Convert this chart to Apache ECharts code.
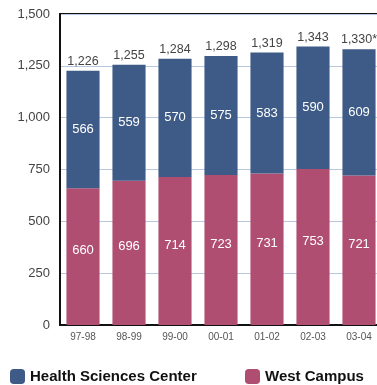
<!DOCTYPE html>
<html>
<head>
<meta charset="utf-8">
<script src="https://cdn.jsdelivr.net/npm/echarts@6/dist/echarts.min.js"></script>
<style>
  html, body { margin: 0; padding: 0; background: #fff; }
  #main { width: 377px; height: 385px; }
</style>
</head>
<body>
<div id="main"></div>
<script>
// academic years
const years = ["97-98", "98-99", "99-00", "00-01", "01-02", "02-03", "03-04"];
// West Campus (bottom segment)
const westCampus = [660, 696, 714, 723, 731, 753, 721];
// Health Sciences Center (top segment)
const healthSciences = [566, 559, 570, 575, 583, 590, 609];
// totals as printed above the bars
const totalLabels = ["1,226", "1,255", "1,284", "1,298", "1,319", "1,343", "1,330*"];

const blue = "#3e5a86";
const pink = "#b04e72";
const font = "Liberation Sans, Arial, sans-serif";

const chart = echarts.init(document.getElementById("main"));
chart.setOption({
  animation: false,
  textStyle: { fontFamily: font },
  grid: {
    left: 60, top: 14, width: 322, bottom: 60,
    outerBoundsMode: "none",
    show: true, borderColor: "#111", borderWidth: 2
  },
  legend: [
    {
      data: ["Health Sciences Center"], left: 5, top: 364,
      itemWidth: 15, itemHeight: 15, itemGap: 6,
      textStyle: { fontSize: 15, fontWeight: "bold", color: "#111", fontFamily: font }
    },
    {
      data: ["West Campus"], left: 240, top: 364,
      itemWidth: 15, itemHeight: 15, itemGap: 6,
      textStyle: { fontSize: 15, fontWeight: "bold", color: "#111", fontFamily: font }
    }
  ],
  xAxis: {
    type: "category",
    data: years,
    axisLine: { lineStyle: { color: "#111", width: 2 } },
    axisTick: { show: false },
    axisLabel: { color: "#555", fontSize: 10, margin: 7 }
  },
  yAxis: {
    type: "value",
    min: 0, max: 1500, interval: 250,
    axisLine: { show: true, lineStyle: { color: "#111", width: 2 } },
    axisTick: { show: false },
    axisLabel: {
      color: "#444", fontSize: 13, margin: 10,
      formatter: v => v.toLocaleString("en-US")
    },
    splitLine: { lineStyle: { color: "#b8c8e0", width: 1 } }
  },
  series: [
    {
      name: "West Campus",
      type: "bar",
      stack: "total",
      data: westCampus,
      barWidth: "72%",
      itemStyle: { color: pink },
      label: { show: true, position: "inside", color: "#fff", fontSize: 13, offset: [0, -6] }
    },
    {
      name: "Health Sciences Center",
      type: "bar",
      stack: "total",
      data: healthSciences,
      barWidth: "72%",
      itemStyle: { color: blue },
      label: { show: true, position: "inside", color: "#fff", fontSize: 13 }
    },
    {
      name: "totals",
      type: "bar",
      stack: "total",
      data: years.map(() => 0),
      barWidth: "72%",
      itemStyle: { color: "transparent" },
      label: {
        show: true, position: "top", color: "#444", fontSize: 12.5, distance: 3,
        formatter: p => totalLabels[p.dataIndex]
      }
    }
  ]
});
</script>
</body>
</html>
